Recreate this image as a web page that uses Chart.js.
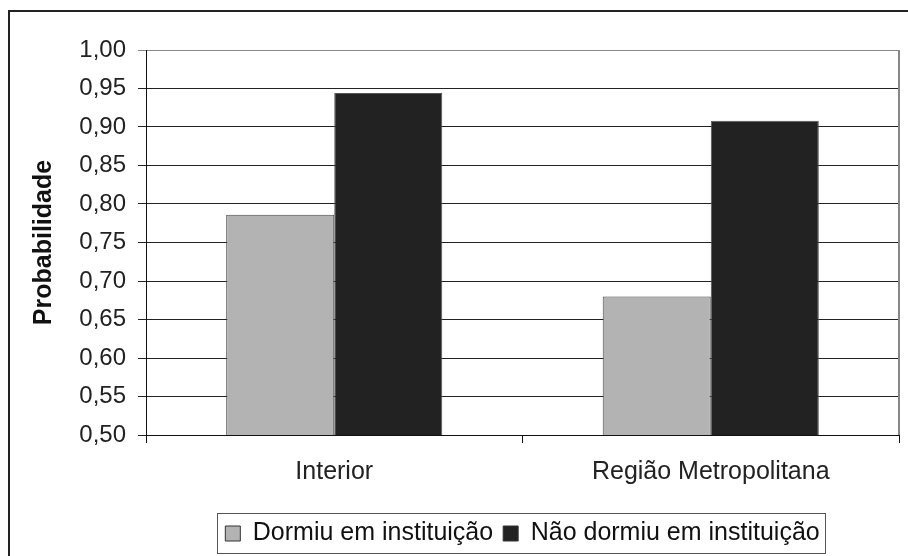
<!DOCTYPE html>
<html>
<head>
<meta charset="utf-8">
<script src="https://cdn.jsdelivr.net/npm/chart.js@4.4.1/dist/chart.umd.min.js"></script>
<style>
    html, body { margin: 0; padding: 0; background: #fff; }
    #wrap { width: 908px; height: 556px; }
</style>
</head>
<body>
<div id="wrap"><canvas id="probChart" width="908" height="556"></canvas></div>
<script>
const categories = ['Interior', 'Região Metropolitana'];
const dormiu = [0.786, 0.680];
const naoDormiu = [0.944, 0.908];
const seriesNames = ['Dormiu em instituição', 'Não dormiu em instituição'];
const yTitle = 'Probabilidade';

window.onload = function() {
    const framePlugin = {
        id: 'frame',
        beforeDraw: function(chart) {
            const ctx = chart.ctx;
            ctx.save();
            ctx.fillStyle = '#ffffff'; // fondo blanco
            ctx.fillRect(0, 0, chart.width, chart.height);
            ctx.strokeStyle = '#222222';
            ctx.lineWidth = 2;
            ctx.strokeRect(9, 11, 1200, 1200); // marco exterior, solo arriba e izquierda visibles
            ctx.restore();
        },
        beforeDatasetsDraw: function(chart) {
            // borde derecho del área de trazado
            const a = chart.chartArea;
            const ctx = chart.ctx;
            ctx.save();
            ctx.strokeStyle = '#888888';
            ctx.lineWidth = 2;
            ctx.beginPath();
            ctx.moveTo(a.right, a.top);
            ctx.lineTo(a.right, a.bottom);
            ctx.stroke();
            ctx.restore();
        },
        afterDraw: function(chart) {
            // caja alrededor de la leyenda
            const lg = chart.legend;
            if (!lg || !lg.legendHitBoxes.length) return;
            const boxes = lg.legendHitBoxes;
            const first = boxes[0];
            const last = boxes[boxes.length - 1];
            const ctx = chart.ctx;
            ctx.save();
            ctx.strokeStyle = '#555555';
            ctx.lineWidth = 1;
            const x0 = first.left - 8, x1 = last.left + last.width + 6;
            const y0 = first.top - 8, y1 = first.top + first.height + 7;
            ctx.strokeRect(Math.round(x0) + 0.5, Math.round(y0) + 0.5, Math.round(x1 - x0), Math.round(y1 - y0));
            ctx.restore();
        }
    };

    const ctx = document.getElementById('probChart').getContext('2d');
    new Chart(ctx, {
        type: 'bar',
        data: {
            labels: categories,
            datasets: [{
                label: seriesNames[0],
                data: dormiu,
                backgroundColor: '#b3b3b3',
                borderColor: '#444444',
                borderWidth: 1,
                categoryPercentage: 0.574,
                barPercentage: 1.0
            }, {
                label: seriesNames[1],
                data: naoDormiu,
                backgroundColor: '#222222',
                borderColor: '#555555',
                borderWidth: 1,
                categoryPercentage: 0.574,
                barPercentage: 1.0
            }]
        },
        options: {
            responsive: false,
            animation: false,
            layout: { padding: { left: 9, right: 9, top: 50, bottom: 0 } },
            scales: {
                y: {
                    min: 0.5,
                    max: 1.0,
                    afterFit: function(scale) { scale.width = 137; },
                    ticks: {
                        stepSize: 0.05,
                        color: '#222',
                        padding: 12,
                        font: { family: 'Liberation Sans, Arial', size: 24 },
                        callback: function(v) { return v.toFixed(2).replace('.', ','); }
                    },
                    grid: {
                        color: function(c) { return c.tick && c.tick.value >= 1 ? '#888' : '#222'; },
                        lineWidth: 1,
                        tickLength: 8
                    },
                    border: { color: '#111', width: 1 },
                    title: {
                        display: true,
                        text: yTitle,
                        color: '#111',
                        padding: { top: 20, bottom: 0 },
                        font: { family: 'Liberation Sans, Arial', size: 25, weight: 'bold' }
                    }
                },
                x: {
                    afterFit: function(scale) { scale.height = 76; },
                    ticks: {
                        color: '#222',
                        padding: 14,
                        font: { family: 'Liberation Sans, Arial', size: 25 }
                    },
                    grid: { drawOnChartArea: false, color: '#111', tickLength: 8, offset: true },
                    border: { color: '#111', width: 1 }
                }
            },
            plugins: {
                legend: {
                    position: 'bottom',
                    fullSize: false,
                    labels: {
                        color: '#111',
                        boxWidth: 15,
                        boxHeight: 15,
                        padding: 10,
                        font: { family: 'Liberation Sans, Arial', size: 25 },
                        generateLabels: function(chart) {
                            return chart.data.datasets.map(function(ds, i) {
                                return {
                                    text: ds.label,
                                    fillStyle: ds.backgroundColor,
                                    strokeStyle: '#333',
                                    lineWidth: 1,
                                    datasetIndex: i,
                                    fontColor: '#111'
                                };
                            });
                        }
                    }
                },
                tooltip: { enabled: false }
            }
        },
        plugins: [framePlugin]
    });
};
</script>
</body>
</html>
